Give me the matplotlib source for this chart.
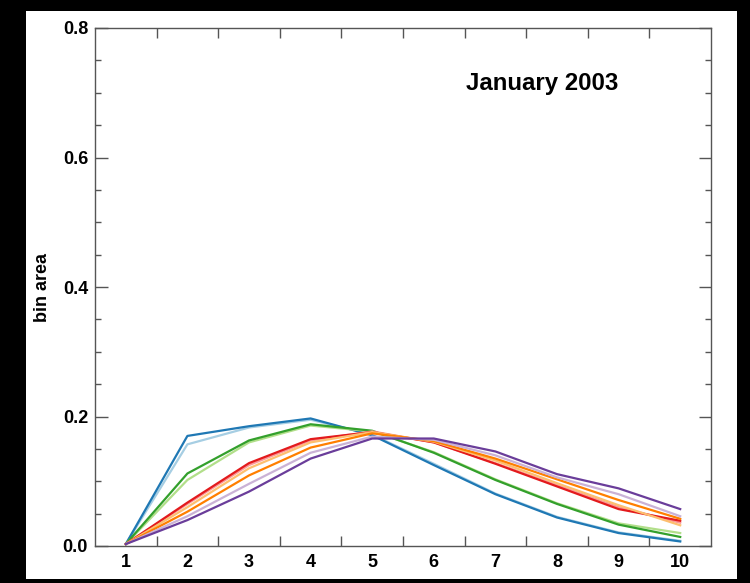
import matplotlib
matplotlib.use("Agg")
import matplotlib.pyplot as plt
from matplotlib.patches import Rectangle
from matplotlib.ticker import MultipleLocator, FixedLocator

plt.rcParams['font.family'] = ['Liberation Sans', 'DejaVu Sans']
plt.rcParams['font.weight'] = 'bold'

bins = [1, 2, 3, 4, 5, 6, 7, 8, 9, 10]
colors = ['#a6cee3', '#1f78b4', '#b2df8a', '#33a02c', '#fb9a99',
          '#e31a1c', '#fdbf6f', '#ff7f00', '#cab2d6', '#6a3d9a']

s_lightblue  = [0.003, 0.157, 0.183, 0.195, 0.172, 0.127, 0.081, 0.045, 0.021, 0.008]
s_blue       = [0.003, 0.170, 0.185, 0.197, 0.171, 0.125, 0.080, 0.044, 0.020, 0.007]
s_lightgreen = [0.003, 0.102, 0.160, 0.186, 0.177, 0.145, 0.103, 0.066, 0.035, 0.020]
s_green      = [0.003, 0.112, 0.163, 0.188, 0.178, 0.144, 0.102, 0.065, 0.033, 0.014]
s_pink       = [0.003, 0.065, 0.125, 0.163, 0.177, 0.160, 0.128, 0.094, 0.060, 0.036]
s_red        = [0.003, 0.067, 0.128, 0.165, 0.176, 0.160, 0.127, 0.092, 0.057, 0.039]
s_lightorng  = [0.003, 0.060, 0.120, 0.160, 0.176, 0.161, 0.132, 0.097, 0.063, 0.032]
s_orange     = [0.003, 0.053, 0.109, 0.152, 0.174, 0.162, 0.135, 0.103, 0.071, 0.042]
s_lightpurp  = [0.003, 0.046, 0.096, 0.144, 0.169, 0.164, 0.140, 0.106, 0.080, 0.046]
s_purple     = [0.003, 0.040, 0.084, 0.135, 0.166, 0.166, 0.146, 0.111, 0.089, 0.057]

series = [s_lightblue, s_blue, s_lightgreen, s_green, s_pink,
          s_red, s_lightorng, s_orange, s_lightpurp, s_purple]

title_text = "January 2003"
ylabel_text = "bin area"
yticks = [0.0, 0.2, 0.4, 0.6, 0.8]
ytick_labels = ["0.0", "0.2", "0.4", "0.6", "0.8"]

fig = plt.figure(figsize=(7.5, 5.83), dpi=100, facecolor='black')
bg = Rectangle((26/750, 1 - 579/583), (737-26)/750, (579-11)/583,
               transform=fig.transFigure, facecolor='white',
               edgecolor='none', zorder=-10)
fig.add_artist(bg)
ax = fig.add_axes([95/750, 1 - 546/583, (711-95)/750, (546-28)/583])
ax.set_zorder(5)
ax.set_facecolor('white')

for s, c in zip(series, colors):
    ax.plot(bins, s, color=c, lw=1.6, solid_joinstyle='round')

ax.set_xlim(0.5, 10.5)
ax.set_ylim(0.0, 0.8)

ax.xaxis.set_major_locator(FixedLocator(bins))
ax.set_xticklabels([str(b) for b in bins])
ax.xaxis.set_minor_locator(FixedLocator([b + 0.5 for b in bins[:-1]]))
ax.yaxis.set_major_locator(FixedLocator(yticks))
ax.set_yticklabels(ytick_labels)
ax.yaxis.set_minor_locator(MultipleLocator(0.05))

spine_color = '#555555'
for sp in ax.spines.values():
    sp.set_color(spine_color)
    sp.set_linewidth(1.0)

ax.tick_params(axis='x', which='major', length=0, pad=6, labelsize=13)
ax.tick_params(axis='x', which='minor', length=7.5, direction='in',
               top=True, bottom=True, color=spine_color, width=1.0)
ax.tick_params(axis='y', which='major', length=9, direction='in',
               left=True, right=True, color=spine_color, width=1.0,
               pad=5, labelsize=13)
ax.tick_params(axis='y', which='minor', length=4.5, direction='in',
               left=True, right=True, color=spine_color, width=1.0)

ax.set_ylabel(ylabel_text, fontsize=13, fontweight='bold')
ax.yaxis.set_label_coords(-0.072, 0.5)

ax.text(0.7256, 0.892, title_text, transform=ax.transAxes, ha='center',
        va='center', fontsize=17.3, fontweight='bold')

fig.savefig('out.png', dpi=100, facecolor='black')
